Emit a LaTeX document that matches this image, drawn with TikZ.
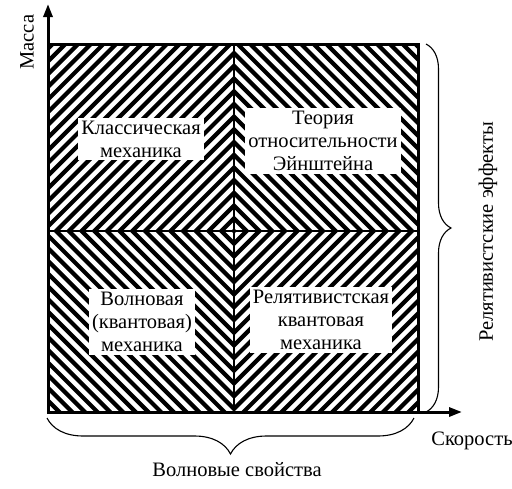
\documentclass[tikz,border=0pt]{standalone}
\usepackage{fontspec}
\setmainfont{Liberation Serif}
\usetikzlibrary{arrows.meta,decorations.pathreplacing}

\tikzset{
	hatch/.style={line width=4.2pt},
	boxtext/.style={fill=white,align=center,inner sep=3pt,font=\fontsize{20.5}{23}\selectfont},
	axistext/.style={font=\fontsize{20.5}{23}\selectfont},
	axis/.style={line width=3pt,-{Triangle[length=13pt,width=9pt]}},
	brace/.style={decorate,line width=1.1pt,decoration={brace,amplitude=#1}}
}

\begin{document}
\begin{tikzpicture}[x=1pt,y=-1pt]
			\useasboundingbox (0,0) rectangle (512,488);

			\coordinate(O) at (48,412);
			\coordinate(C) at (234,231);
			\coordinate(ytop) at (48,4);
			\coordinate(xend) at (462,412);

			\begin{scope}
				\clip (48,44) rectangle (234,231);
				\foreach \k in {-32,...,2}
					\draw[hatch] ({465+12.7*\k-800},800) -- ({465+12.7*\k+800},-800);
			\end{scope}
			\begin{scope}
				\clip (234,44) rectangle (418,231);
				\foreach \k in {-1,...,31}
					\draw[hatch] ({3+12.7*\k-800},-800) -- ({3+12.7*\k+800},800);
			\end{scope}
			\begin{scope}
				\clip (48,231) rectangle (234,412);
				\foreach \k in {-31,...,1}
					\draw[hatch] ({3+12.7*\k-800},-800) -- ({3+12.7*\k+800},800);
			\end{scope}
			\begin{scope}
				\clip (234,231) rectangle (418,412);
				\foreach \k in {-1,...,30}
					\draw[hatch] ({465+12.7*\k-800},800) -- ({465+12.7*\k+800},-800);
			\end{scope}

			\draw[line width=3pt] (48,44) rectangle (418,412);
			\draw[line width=2.5pt] (234,44) -- (234,412);
			\draw[line width=2.5pt] (48,231) -- (418,231);

			\draw[axis] (O) -- (ytop);
			\draw[axis] (O) -- (xend);

			\node(classic) [boxtext] at (141,139) {Классическая\\механика};
			\node(einstein) [boxtext] at (323,141) {Теория\\относительности\\Эйнштейна};
			\node(wave) [boxtext] at (142,322) {Волновая\\(квантовая)\\механика};
			\node(relquant) [boxtext] at (321,320) {Релятивистская\\квантовая\\механика};

			\draw[brace=25pt] (426,44) -- (426,412);
			\draw[brace=36pt] (414,418) -- (47,418);

			\node(mass) [axistext,rotate=90] at (27,42) {Масса};
			\node(speed) [axistext] at (472,441) {Скорость};
			\node(waveprop) [axistext] at (237,470) {Волновые свойства};
			\node(releff) [axistext,rotate=90] at (488,232) {Релятивистские эффекты};
		\end{tikzpicture}
\end{document}
